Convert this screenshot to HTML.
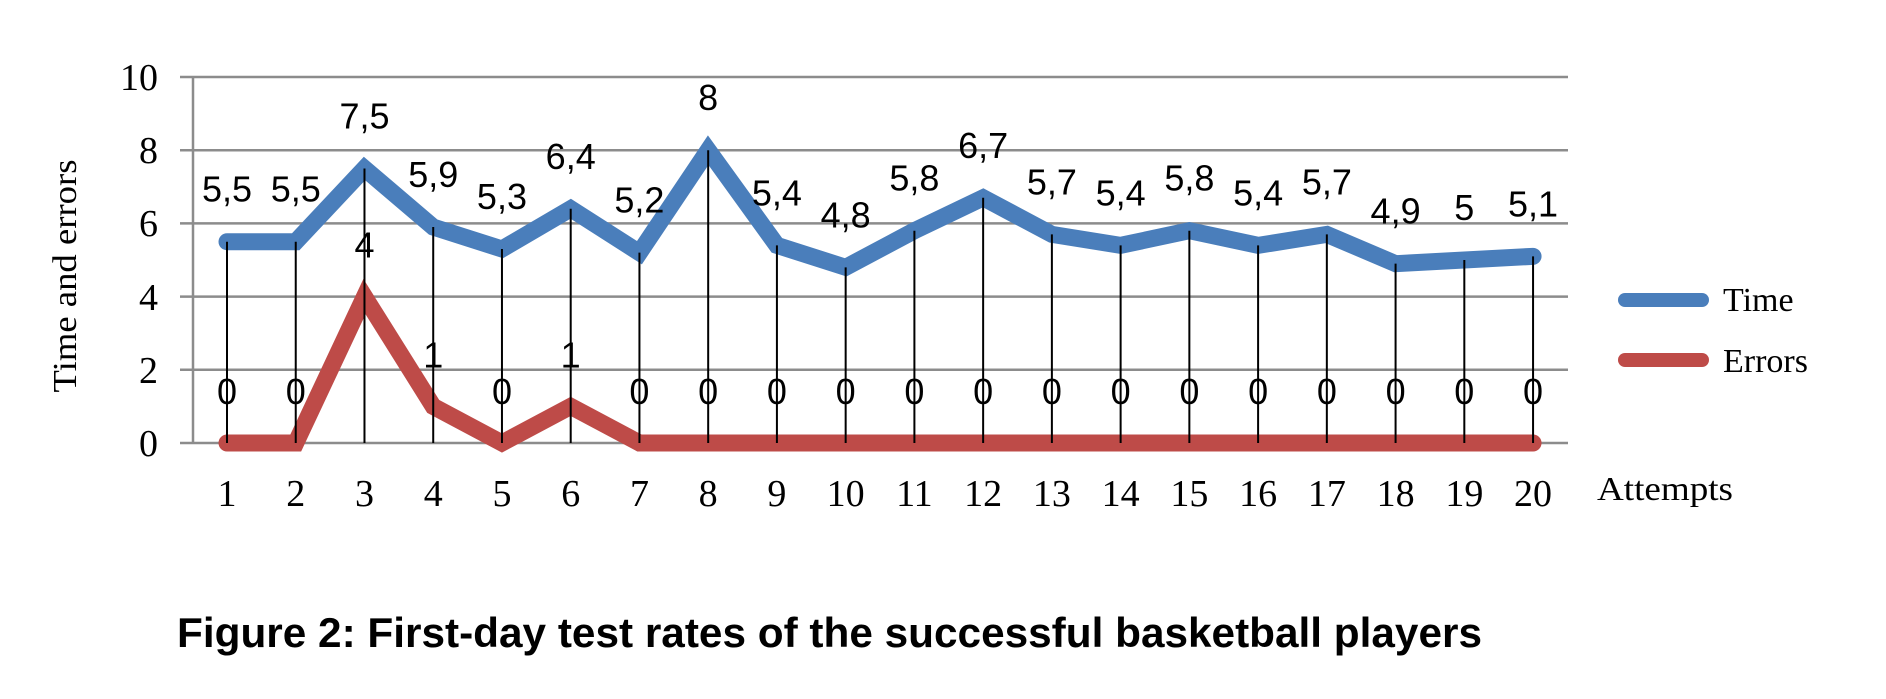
<!DOCTYPE html>
<html><head><meta charset="utf-8"><style>
html,body{margin:0;padding:0;background:#fff;}
svg{display:block;}
</style></head><body>
<svg width="1886" height="699" viewBox="0 0 1886 699" xmlns="http://www.w3.org/2000/svg">
<g stroke="#8c8c8c" stroke-width="2.5">
<line x1="180" y1="77" x2="1568" y2="77"/>
<line x1="180" y1="150.2" x2="1568" y2="150.2"/>
<line x1="180" y1="223.4" x2="1568" y2="223.4"/>
<line x1="180" y1="296.6" x2="1568" y2="296.6"/>
<line x1="180" y1="369.8" x2="1568" y2="369.8"/>
<line x1="180" y1="443" x2="1568" y2="443"/>
<line x1="193" y1="77" x2="193" y2="443"/>
</g>
<g font-family="Liberation Serif, serif" font-size="38" fill="#000" text-anchor="end">
<text x="158" y="90">10</text>
<text x="158" y="163">8</text>
<text x="158" y="236">6</text>
<text x="158" y="310">4</text>
<text x="158" y="383">2</text>
<text x="158" y="456">0</text>
</g>
<text transform="translate(76,276) rotate(-90)" font-family="Liberation Serif, serif" font-size="34" text-anchor="middle" textLength="233" lengthAdjust="spacingAndGlyphs">Time and errors</text>
<g id="plot"></g>
<g font-family="Liberation Serif, serif" font-size="34">
<line x1="1625" y1="300" x2="1702" y2="300" stroke="#4a7ebb" stroke-width="14" stroke-linecap="round"/>
<line x1="1625" y1="360" x2="1702" y2="360" stroke="#be4b48" stroke-width="14" stroke-linecap="round"/>
<text x="1723" y="311">Time</text>
<text x="1723" y="372">Errors</text>
<text x="1597" y="500" textLength="136" lengthAdjust="spacingAndGlyphs">Attempts</text>
</g>
<text x="177" y="647" font-family="Liberation Sans, sans-serif" font-weight="bold" font-size="42" textLength="1305" lengthAdjust="spacingAndGlyphs">Figure 2: First-day test rates of the successful basketball players</text>
<script>
var T=[5.5,5.5,7.5,5.9,5.3,6.4,5.2,8,5.4,4.8,5.8,6.7,5.7,5.4,5.8,5.4,5.7,4.9,5,5.1];
var E=[0,0,4,1,0,1,0,0,0,0,0,0,0,0,0,0,0,0,0,0];
var ns="http://www.w3.org/2000/svg",g=document.getElementById("plot");
function X(i){return 227+i*68.74;}function Y(v){return 443-v*36.6;}
function el(n,a,t){var e=document.createElementNS(ns,n);for(var k in a)e.setAttribute(k,a[k]);if(t!=null)e.textContent=t;g.appendChild(e);return e;}
var pt=T.map(function(v,i){return X(i)+","+Y(v)}).join(" ");
var pe=E.map(function(v,i){return X(i)+","+Y(v)}).join(" ");
el("polyline",{points:pt,fill:"none",stroke:"#4a7ebb","stroke-width":17,"stroke-linejoin":"miter","stroke-linecap":"round"});
el("polyline",{points:pe,fill:"none",stroke:"#be4b48","stroke-width":17,"stroke-linejoin":"miter","stroke-linecap":"round"});
for(var i=0;i<20;i++){
el("line",{x1:X(i),y1:Y(T[i]),x2:X(i),y2:443,stroke:"#000","stroke-width":2});
}
for(var i=0;i<20;i++){
el("text",{x:X(i),y:Y(T[i])-40,"font-family":"Liberation Sans, sans-serif","font-size":36,"text-anchor":"middle"},String(T[i]).replace(".",","));
el("text",{x:X(i),y:Y(E[i])-39,"font-family":"Liberation Sans, sans-serif","font-size":36,"text-anchor":"middle"},String(E[i]));
el("text",{x:X(i),y:506,"font-family":"Liberation Serif, serif","font-size":38,"text-anchor":"middle"},String(i+1));
}
</script>
</svg>
</body></html>
